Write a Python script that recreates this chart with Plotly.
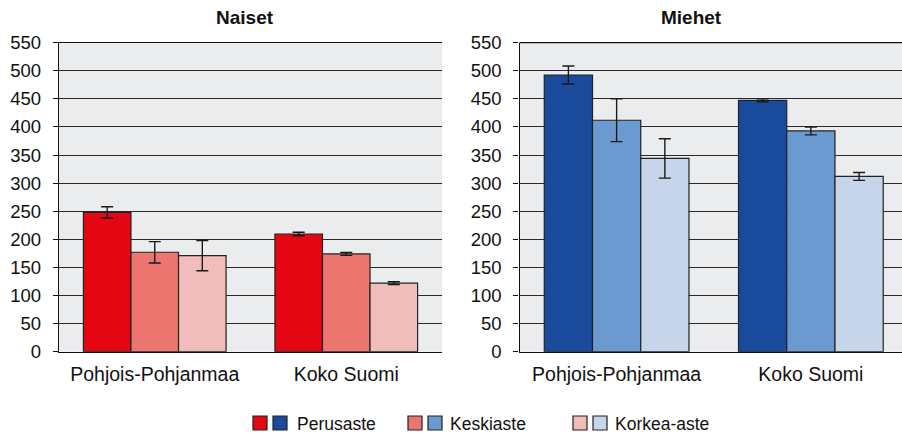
import plotly.graph_objects as go

# Regions and education levels
regions = ["Pohjois-Pohjanmaa", "Koko Suomi"]
levels = ["Perusaste", "Keskiaste", "Korkea-aste"]

# Women: values and error half-widths per level (regions in order)
naiset_perus = [248, 209.5]
naiset_keski = [177, 174]
naiset_korkea = [171, 122]
naiset_perus_err = [10, 3]
naiset_keski_err = [19, 2.5]
naiset_korkea_err = [27, 2.5]

# Men: values and error half-widths per level
miehet_perus = [492.5, 447.5]
miehet_keski = [412, 393]
miehet_korkea = [344, 312]
miehet_perus_err = [16, 2.5]
miehet_keski_err = [38, 7]
miehet_korkea_err = [35, 7]

y_ticks = list(range(0, 551, 50))

red_colors = ["#E30613", "#EC7570", "#F0BDBA"]
blue_colors = ["#1A4A9B", "#6A9AD0", "#C6D5EA"]

W, H = 902, 436
FONT = "Liberation Sans, Arial, sans-serif"

fig = go.Figure()

naiset = [(naiset_perus, naiset_perus_err), (naiset_keski, naiset_keski_err),
          (naiset_korkea, naiset_korkea_err)]
miehet = [(miehet_perus, miehet_perus_err), (miehet_keski, miehet_keski_err),
          (miehet_korkea, miehet_korkea_err)]

for panel, (data, colors, xa, ya) in enumerate(
        [(naiset, red_colors, "x", "y"), (miehet, blue_colors, "x2", "y2")]):
    for i, (vals, errs) in enumerate(data):
        fig.add_trace(go.Bar(
            x=regions, y=vals, name=levels[i], showlegend=False,
            xaxis=xa, yaxis=ya, offsetgroup=str(i),
            marker=dict(color=colors[i], line=dict(color="#222222", width=1.2)),
            error_y=dict(type="data", array=errs, visible=True,
                         color="#1a1a1a", thickness=1.4, width=6),
        ))


def px_x(p):
    return p / W


def px_y(p):
    return 1 - p / H


ydom = [px_y(351.7), px_y(42.7)]

axis_common = dict(showline=True, linecolor="#111111", linewidth=1.3, automargin=False)
x_common = dict(showgrid=False, ticks="", ticklabelstandoff=5,
                tickfont=dict(family=FONT, size=19.5, color="#111111"), **axis_common)
y_common = dict(range=[0, 550], tickvals=y_ticks, ticks="outside", ticklen=5,
                tickcolor="#111111", ticklabelstandoff=8, showgrid=True,
                gridcolor="#2a2a2a", gridwidth=1, zeroline=False,
                tickfont=dict(family=FONT, size=18.5, color="#111111"), **axis_common)

# the men's panel continues past the right page edge, so its visible
# category range stops short of the last category boundary
x2_visible_end = 1.5 - (908 - 902) / 194.3

fig.update_layout(
    template="none",
    width=W, height=H, margin=dict(l=0, r=0, t=0, b=0, pad=0), autosize=False,
    paper_bgcolor="white", plot_bgcolor="#EBECEE",
    barmode="group", bargap=0.255, bargroupgap=0,
    xaxis=dict(domain=[px_x(59), px_x(442)], range=[-0.5, 1.5], mirror=True,
               anchor="y", **x_common),
    yaxis=dict(domain=ydom, anchor="x", **y_common),
    xaxis2=dict(domain=[px_x(519.5), 1.0], range=[-0.5, x2_visible_end],
                mirror=False, anchor="y2", **x_common),
    yaxis2=dict(domain=ydom, anchor="x2", **y_common),
    showlegend=False,
)

shapes = []
annotations = []

# top border of the men's panel
shapes.append(dict(type="line", xref="paper", yref="paper",
                   x0=px_x(519.5), x1=1.0, y0=ydom[1], y1=ydom[1],
                   line=dict(color="#111111", width=1.3)))

# panel titles
for title, cx in [("Naiset", 245), ("Miehet", 691)]:
    annotations.append(dict(text="<b>%s</b>" % title, x=px_x(cx), y=px_y(17),
                            xref="paper", yref="paper", showarrow=False,
                            xanchor="center", yanchor="middle",
                            font=dict(family=FONT, size=19, color="#111111")))

# legend: red and blue swatch pair per level
legend_pos = [(253, 295), (408, 448), (573, 613)]
for i, (sx, tx) in enumerate(legend_pos):
    for j, col in enumerate([red_colors[i], blue_colors[i]]):
        x0 = sx + j * 20
        shapes.append(dict(type="rect", xref="paper", yref="paper",
                           x0=px_x(x0), x1=px_x(x0 + 14), y0=px_y(430), y1=px_y(416),
                           fillcolor=col, line=dict(color="#222222", width=1.2)))
    annotations.append(dict(text=levels[i], x=px_x(tx), y=px_y(423.5),
                            xref="paper", yref="paper", showarrow=False,
                            xanchor="left", yanchor="middle",
                            font=dict(family=FONT, size=17.5, color="#111111")))

fig.update_layout(shapes=shapes, annotations=annotations)

fig.write_html("out.html")
